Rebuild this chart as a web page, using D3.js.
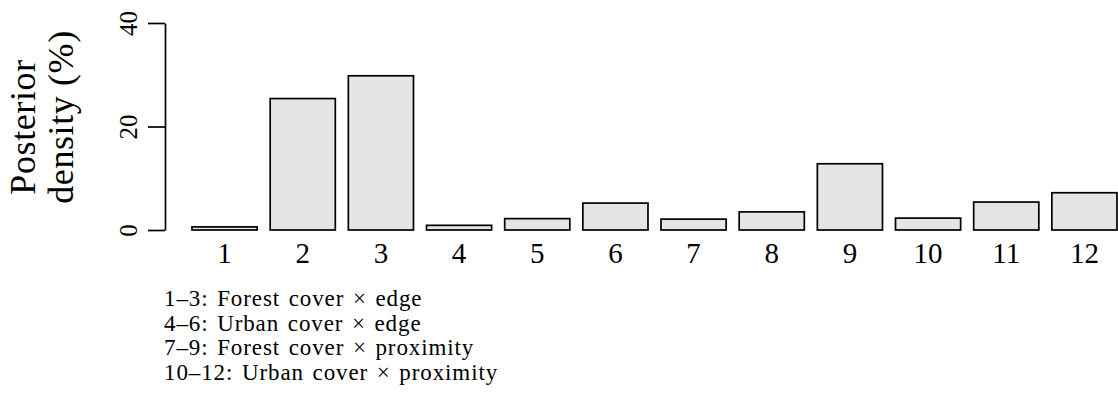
<!DOCTYPE html>
<html>
<head>
<meta charset="utf-8">
<script src="https://cdn.jsdelivr.net/npm/d3@7"></script>
<style>
  body { margin: 0; background: #fff; }
  text { font-family: "Liberation Serif", "DejaVu Serif", serif; fill: #000; }
</style>
</head>
<body>
<div id="chart"></div>
<script>
// posterior density (%) of each of the 12 candidate models
const models = ["1", "2", "3", "4", "5", "6", "7", "8", "9", "10", "11", "12"];
const density = [0.6, 25.4, 29.8, 0.9, 2.2, 5.2, 2.1, 3.5, 12.8, 2.3, 5.4, 7.2];
const yTicks = [0, 20, 40];
const legendLines = [
    "1\u20133: Forest cover \u00d7 edge",
    "4\u20136: Urban cover \u00d7 edge",
    "7\u20139: Forest cover \u00d7 proximity",
    "10\u201312: Urban cover \u00d7 proximity"
];

const width = 1118, height = 400;

const svg = d3.select("#chart").append("svg")
    .attr("width", width)
    .attr("height", height);

// R barplot: width 1, space 0.2
const x = d3.scaleBand()
    .domain(models)
    .range([185.5, 1123.5])
    .paddingInner(0.2 / 1.2)
    .paddingOuter(0.1 / 1.2);

const y = d3.scaleLinear()
    .domain([0, 40])
    .range([230, 23]);

svg.selectAll("rect.bar")
    .data(density)
    .enter()
    .append("rect")
    .attr("class", "bar")
    .attr("x", (d, i) => x(models[i]))
    .attr("width", x.bandwidth())
    .attr("y", d => y(d))
    .attr("height", d => y(0) - y(d))
    .attr("fill", "#e5e5e5")
    .attr("stroke", "#000")
    .attr("stroke-width", 1.7);

// x labels (no axis line)
svg.selectAll("text.xlab")
    .data(models)
    .enter()
    .append("text")
    .attr("class", "xlab")
    .attr("x", d => x(d) + x.bandwidth() / 2)
    .attr("y", 263)
    .attr("text-anchor", "middle")
    .attr("font-size", 29)
    .text(d => d);

// y axis
const yAxis = d3.axisLeft(y)
    .tickValues(yTicks)
    .tickSize(17)
    .tickPadding(4)
    .tickSizeOuter(0);

const yAxisG = svg.append("g")
    .attr("transform", "translate(165,0)")
    .call(yAxis);

yAxisG.select(".domain").attr("stroke", "#000").attr("stroke-width", 1.7);
yAxisG.selectAll(".tick line").attr("stroke", "#000").attr("stroke-width", 1.7);
yAxisG.selectAll(".tick text")
    .attr("font-family", "Liberation Serif, serif")
    .attr("font-size", 25)
    .attr("fill", "#000")
    .attr("x", 0)
    .attr("y", 0)
    .attr("dy", null)
    .attr("text-anchor", "middle")
    .attr("transform", "translate(-28,0) rotate(-90)");

// y title, two lines
svg.append("text")
    .attr("transform", "translate(35,127) rotate(-90)")
    .attr("text-anchor", "middle")
    .attr("font-size", 36)
    .attr("letter-spacing", 0.6)
    .text("Posterior");

svg.append("text")
    .attr("transform", "translate(73,117) rotate(-90)")
    .attr("text-anchor", "middle")
    .attr("font-size", 36)
    .attr("letter-spacing", 0.6)
    .text("density (%)");

// legend text under the chart
svg.selectAll("text.leg")
    .data(legendLines)
    .enter()
    .append("text")
    .attr("class", "leg")
    .attr("x", 164)
    .attr("y", (d, i) => 306 + i * 24.5)
    .attr("font-size", 23)
    .attr("letter-spacing", 0.9)
    .attr("word-spacing", 2)
    .text(d => d);
</script>
</body>
</html>
